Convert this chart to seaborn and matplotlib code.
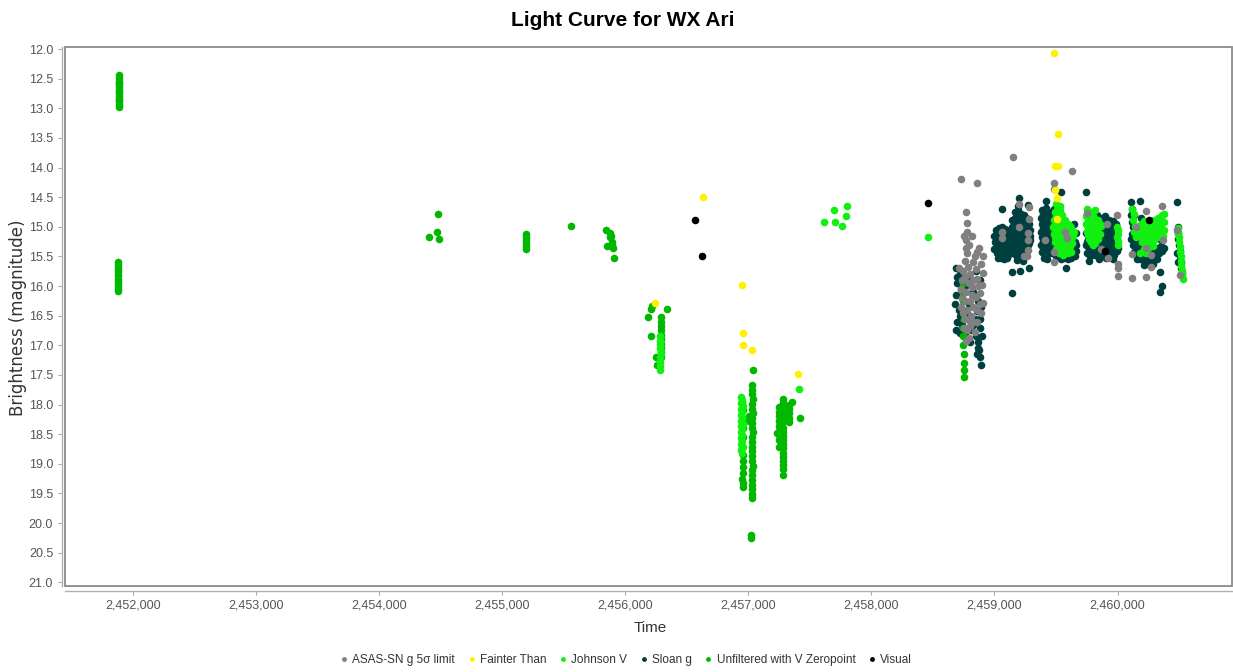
import matplotlib
matplotlib.use("Agg")
import matplotlib.pyplot as plt
import seaborn as sns
from matplotlib.lines import Line2D
from matplotlib.patches import Rectangle
from matplotlib.ticker import FuncFormatter, MultipleLocator

# Times are stored as JD - 2450000, magnitudes as observed
JD_BASE = 2450000

SERIES_NAMES = ["ASAS-SN g 5σ limit", "Fainter Than", "Johnson V",
                "Sloan g", "Unfiltered with V Zeropoint", "Visual"]

ASASSN_G = [
    (8726, 14.19), (8861, 14.26), (8766, 14.75), (8775, 14.94), (8780, 15.08),
    (8820, 15.16), (8766, 15.23), (8772, 15.35), (8778, 15.45), (8856, 15.42),
    (8905, 15.50), (8895, 15.62), (8760, 15.58), (8785, 15.68), (8830, 15.60),
    (8745, 15.75), (8800, 15.80), (8850, 15.72), (8910, 15.78), (8735, 15.90),
    (8790, 15.95), (8860, 15.88), (8900, 15.98), (8725, 16.05), (8770, 16.10),
    (8820, 16.02), (8880, 16.12), (8740, 16.20), (8800, 16.25), (8850, 16.18),
    (8905, 16.28), (8730, 16.35), (8780, 16.40), (8830, 16.35), (8890, 16.45),
    (8760, 16.55), (8810, 16.50), (8860, 16.60), (8750, 16.70), (8800, 16.68),
    (8840, 16.78), (8790, 16.88), (8770, 16.92), (8815, 16.15), (8795, 16.58),
    (8755, 15.15), (8790, 15.30), (8840, 15.50), (8875, 15.35), (8715, 15.70),
    (8760, 15.85), (8825, 15.90), (8870, 16.00), (8745, 16.45), (8855, 16.40),
    (8825, 16.60), (8880, 16.30), (8780, 16.75), (8760, 16.25),
    (9153, 13.83), (9064, 15.08), (9064, 15.19), (9200, 14.62), (9200, 15.00),
    (9278, 14.66), (9278, 14.87), (9270, 15.39), (9243, 15.50), (9275, 15.11),
    (9275, 15.22), (9262, 15.50),
    (9481, 14.26), (9481, 14.37), (9630, 14.05), (9575, 15.08), (9590, 15.19),
    (9481, 15.43), (9481, 15.59), (9410, 15.22),
    (9749, 14.76), (9915, 14.95), (9993, 14.80), (10006, 15.62), (10006, 15.70),
    (10006, 15.83), (9865, 15.38), (9920, 15.53), (10115, 15.86),
    (10230, 14.73), (10363, 14.65), (10150, 15.01), (10117, 15.46),
    (10235, 15.36), (10275, 15.48), (10275, 15.68), (10235, 15.85),
    (10367, 15.22), (10485, 15.05), (10508, 15.81),
]

FAINTER_THAN = [
    (6245, 16.29), (6630, 14.49), (6952, 15.98), (6955, 16.79), (6955, 16.99),
    (7031, 17.08), (7402, 17.49), (9486, 12.06), (9516, 13.43), (9492, 13.97),
    (9519, 13.97), (9494, 14.38), (9510, 14.51), (9510, 14.86),
]

JOHNSON_V = [
    (6281, 16.85), (6284, 16.92), (6286, 16.98), (6282, 17.05), (6288, 17.12),
    (6283, 17.20), (6285, 17.28), (6287, 17.35), (6284, 17.42),
    (6940, 17.87), (6952, 17.92), (6942, 17.97), (6954, 18.02), (6940, 18.07),
    (6953, 18.12), (6941, 18.17), (6952, 18.22), (6940, 18.27), (6954, 18.32),
    (6942, 18.37), (6952, 18.42), (6940, 18.47), (6953, 18.52), (6941, 18.57),
    (6952, 18.62), (6940, 18.67), (6954, 18.72), (6942, 18.77), (6947, 18.82),
    (7410, 17.74),
    (7618, 14.92), (7699, 14.72), (7705, 14.92), (7759, 14.99), (7792, 14.81),
    (7800, 14.65), (8458, 15.17),
    (9500, 14.62), (9515, 14.68), (9530, 14.65), (9490, 14.75), (9520, 14.78),
    (9545, 14.80), (9480, 14.88), (9510, 14.90), (9540, 14.92), (9570, 14.88),
    (9600, 14.95), (9475, 15.00), (9505, 15.02), (9535, 15.05), (9565, 15.00),
    (9595, 15.05), (9625, 15.02), (9650, 15.08), (9480, 15.12), (9510, 15.15),
    (9545, 15.18), (9575, 15.12), (9610, 15.18), (9640, 15.15), (9495, 15.25),
    (9525, 15.28), (9560, 15.25), (9600, 15.30), (9630, 15.28), (9500, 15.38),
    (9540, 15.40), (9585, 15.36), (9620, 15.42), (9560, 15.48),
    (9505, 14.72), (9530, 14.72), (9500, 14.82), (9530, 14.85), (9555, 14.86),
    (9495, 14.95), (9525, 14.96), (9555, 14.95), (9585, 14.96), (9615, 14.98),
    (9490, 15.07), (9520, 15.08), (9550, 15.10), (9585, 15.08), (9615, 15.10),
    (9640, 15.10), (9495, 15.18), (9525, 15.20), (9560, 15.20), (9595, 15.22),
    (9625, 15.22), (9515, 15.33), (9550, 15.33), (9580, 15.28), (9610, 15.32),
    (9525, 15.44), (9600, 15.44),
    (9750, 14.70), (9790, 14.75), (9820, 14.72), (9745, 14.82), (9775, 14.85),
    (9810, 14.85), (9845, 14.88), (9740, 14.95), (9770, 14.97), (9800, 14.95),
    (9835, 15.00), (9865, 14.98), (9750, 15.08), (9785, 15.10), (9820, 15.08),
    (9855, 15.12), (9770, 15.20), (9805, 15.22), (9840, 15.20), (9800, 15.30),
    (9760, 14.78), (9800, 14.82), (9760, 14.90), (9790, 14.90), (9825, 14.92),
    (9855, 14.95), (9760, 15.02), (9795, 15.02), (9830, 15.04), (9760, 15.14),
    (9790, 15.15), (9825, 15.14), (9785, 15.26), (9820, 15.27),
    (9995, 15.00), (10000, 15.06), (10002, 15.12), (9998, 15.18), (10004, 15.24),
    (10000, 15.30),
    (10120, 14.70), (10135, 14.78), (10125, 14.88), (10140, 14.98), (10130, 15.08),
    (10150, 15.18), (10190, 14.95), (10215, 14.90), (10240, 14.92), (10270, 14.95),
    (10300, 14.88), (10330, 14.85), (10360, 14.80), (10380, 14.78), (10200, 15.05),
    (10230, 15.02), (10260, 15.05), (10290, 15.00), (10320, 15.00), (10350, 14.95),
    (10380, 14.92), (10185, 15.15), (10215, 15.12), (10245, 15.15), (10280, 15.10),
    (10310, 15.12), (10345, 15.08), (10375, 15.05), (10200, 15.25), (10230, 15.30),
    (10265, 15.22), (10300, 15.22), (10335, 15.18), (10370, 15.15), (10215, 15.38),
    (10250, 15.35), (10290, 15.32), (10180, 15.45),
    (10205, 14.98), (10235, 14.97), (10265, 14.99), (10295, 14.95), (10325, 14.93),
    (10355, 14.88), (10190, 15.10), (10225, 15.08), (10255, 15.10), (10285, 15.06),
    (10320, 15.06), (10355, 15.02), (10210, 15.20), (10245, 15.22), (10280, 15.18),
    (10315, 15.16), (10350, 15.12), (10230, 15.45), (10270, 15.30),
    (10492, 15.02), (10495, 15.10), (10498, 15.18), (10500, 15.26), (10505, 15.34),
    (10508, 15.42), (10512, 15.50), (10515, 15.58), (10518, 15.66), (10522, 15.74),
    (10526, 15.82), (10534, 15.88),
]

SLOAN_G = [
    (8690, 15.70), (8720, 15.80), (8850, 15.75), (8700, 15.95), (8760, 16.00),
    (8880, 15.90), (8690, 16.15), (8740, 16.20), (8870, 16.25), (8710, 16.40),
    (8780, 16.45), (8860, 16.42), (8700, 16.60), (8830, 16.65), (8880, 16.70),
    (8720, 16.80), (8850, 16.85), (8870, 16.95), (8870, 17.05), (8880, 17.20),
    (8890, 17.33), (8877, 17.08),
    (8700, 15.85), (8730, 16.05), (8790, 15.85), (8830, 16.10), (8680, 16.30),
    (8720, 16.50), (8790, 16.30), (8840, 16.55), (8895, 16.35), (8690, 16.75),
    (8760, 16.80), (8800, 16.95), (8860, 17.15), (8885, 16.55), (8900, 16.85),
    (8740, 16.65), (8810, 16.75),
    (9010, 15.05), (9035, 15.02), (9060, 15.00), (9085, 15.04), (9110, 15.08),
    (9015, 15.15), (9040, 15.13), (9065, 15.16), (9090, 15.12), (9115, 15.18),
    (9008, 15.25), (9033, 15.27), (9058, 15.24), (9083, 15.28), (9108, 15.25),
    (9012, 15.35), (9038, 15.36), (9062, 15.33), (9088, 15.38), (9113, 15.35),
    (9018, 15.45), (9043, 15.47), (9070, 15.44), (9095, 15.48), (9120, 15.46),
    (9030, 15.53), (9080, 15.55),
    (9022, 15.08), (9048, 15.08), (9072, 15.09), (9098, 15.10), (9025, 15.20),
    (9050, 15.20), (9075, 15.21), (9100, 15.20), (9122, 15.22), (9020, 15.30),
    (9046, 15.31), (9072, 15.30), (9098, 15.32), (9025, 15.40), (9050, 15.41),
    (9078, 15.40), (9102, 15.42), (9055, 15.52), (9105, 15.52), (9000, 15.15),
    (9000, 15.38),
    (9165, 14.75), (9190, 14.72), (9215, 14.78), (9240, 14.80),
    (9145, 14.88), (9170, 14.85), (9195, 14.90), (9220, 14.86), (9245, 14.92),
    (9270, 14.88), (9140, 15.00), (9165, 14.98), (9190, 15.02), (9215, 14.97),
    (9240, 15.03), (9265, 15.00), (9285, 15.05), (9145, 15.12), (9170, 15.10),
    (9195, 15.14), (9220, 15.09), (9245, 15.13), (9270, 15.11), (9290, 15.15),
    (9140, 15.22), (9165, 15.25), (9190, 15.21), (9215, 15.24), (9240, 15.22),
    (9265, 15.26), (9285, 15.23), (9145, 15.34), (9170, 15.32), (9195, 15.36),
    (9220, 15.33), (9245, 15.35), (9270, 15.31), (9150, 15.45), (9175, 15.48),
    (9200, 15.44), (9225, 15.47), (9255, 15.45), (9180, 15.56), (9230, 15.58),
    (9155, 14.94), (9180, 14.95), (9205, 14.95), (9230, 14.95), (9255, 14.96),
    (9280, 14.95), (9155, 15.06), (9180, 15.06), (9205, 15.07), (9230, 15.06),
    (9255, 15.07), (9280, 15.08), (9155, 15.17), (9180, 15.17), (9205, 15.18),
    (9230, 15.17), (9255, 15.18), (9280, 15.19), (9155, 15.28), (9180, 15.28),
    (9205, 15.29), (9230, 15.28), (9255, 15.29), (9280, 15.28), (9160, 15.40),
    (9185, 15.40), (9210, 15.40), (9235, 15.41), (9262, 15.40), (9180, 14.80),
    (9205, 14.83), (9230, 14.85), (9255, 14.85), (9195, 14.65), (9130, 15.05),
    (9130, 15.30),
    (9200, 14.52), (9064, 14.70), (9270, 14.64), (9145, 15.77), (9207, 15.74),
    (9280, 15.69), (9145, 16.12),
    (9390, 14.72), (9420, 14.68), (9445, 14.75), (9380, 14.85), (9405, 14.82),
    (9430, 14.86), (9455, 14.84), (9385, 14.95), (9410, 14.98), (9435, 14.94),
    (9460, 14.97), (9380, 15.08), (9405, 15.06), (9430, 15.10), (9455, 15.07),
    (9385, 15.18), (9410, 15.20), (9435, 15.17), (9460, 15.21), (9380, 15.30),
    (9405, 15.28), (9430, 15.32), (9455, 15.30), (9390, 15.42), (9415, 15.40),
    (9440, 15.44), (9465, 15.41), (9400, 15.52), (9430, 15.55),
    (9392, 14.78), (9418, 14.78), (9442, 14.80), (9392, 14.90), (9418, 14.90),
    (9445, 14.90), (9392, 15.02), (9418, 15.02), (9445, 15.02), (9392, 15.13),
    (9418, 15.13), (9445, 15.13), (9392, 15.24), (9418, 15.24), (9445, 15.25),
    (9392, 15.36), (9418, 15.35), (9445, 15.36), (9470, 15.30), (9470, 15.45),
    (9505, 15.45), (9535, 15.48), (9565, 15.52), (9595, 15.48), (9625, 15.52),
    (9655, 15.50), (9665, 15.30), (9640, 15.38),
    (9490, 15.35), (9520, 15.40), (9550, 15.45), (9580, 15.50), (9610, 15.45),
    (9640, 15.48), (9660, 15.40), (9500, 15.50), (9540, 15.55), (9600, 15.55),
    (9630, 15.30), (9655, 15.25), (9660, 15.10), (9650, 14.95), (9480, 14.70),
    (9470, 14.95), (9470, 15.20), (9416, 14.56), (9541, 14.42), (9581, 15.69),
    (9740, 15.10), (9760, 15.20), (9745, 15.30), (9770, 15.38), (9750, 15.45),
    (9780, 15.50), (9765, 15.58), (9800, 15.30), (9830, 15.35), (9860, 15.40),
    (9890, 15.38), (9920, 15.42), (9950, 15.45), (9980, 15.40), (10005, 15.35),
    (9870, 14.85), (9900, 14.82), (9930, 14.88), (9960, 14.90), (9990, 14.95),
    (9860, 15.00), (9885, 14.98), (9915, 15.02), (9945, 15.00), (9975, 15.05),
    (9870, 15.12), (9900, 15.15), (9930, 15.10), (9960, 15.14), (9985, 15.18),
    (9865, 15.25), (9895, 15.22), (9925, 15.28), (9955, 15.24), (9985, 15.27),
    (9875, 15.48), (9905, 15.52), (9935, 15.50), (9965, 15.55), (9850, 15.55),
    (9820, 15.48), (9744, 14.42), (9830, 14.80), (9800, 14.75),
    (9880, 14.92), (9910, 14.92), (9940, 14.94), (9970, 14.96), (9880, 15.06),
    (9910, 15.07), (9940, 15.06), (9970, 15.08), (9880, 15.18), (9910, 15.19),
    (9940, 15.20), (9970, 15.21), (9880, 15.32), (9910, 15.33), (9940, 15.34),
    (9970, 15.33), (9995, 15.40), (9880, 15.43), (9910, 15.44), (9940, 15.45),
    (9970, 15.47), (9760, 15.05), (9755, 15.25), (9775, 15.45), (9790, 15.40),
    (9815, 15.40), (9845, 15.45), (9755, 14.95),
    (10110, 14.58), (10120, 14.70), (10135, 14.80), (10115, 14.92), (10140, 15.02),
    (10120, 15.12), (10150, 15.20), (10125, 15.30), (10160, 15.35), (10135, 15.42),
    (10170, 15.48), (10180, 15.55), (10200, 15.30), (10230, 15.35), (10260, 15.38),
    (10290, 15.40), (10320, 15.36), (10350, 15.32), (10215, 15.45), (10245, 15.50),
    (10275, 15.55), (10305, 15.50), (10335, 15.45), (10230, 15.60), (10260, 15.65),
    (10290, 15.62), (10330, 14.95), (10345, 15.20), (10190, 14.85), (10345, 14.85),
    (10110, 14.80), (10125, 15.00), (10110, 15.20), (10140, 15.25), (10150, 15.40),
    (10160, 15.55), (10215, 15.38), (10245, 15.42), (10275, 15.45), (10305, 15.42),
    (10335, 15.38), (10200, 15.55), (10260, 15.55), (10320, 15.55), (10365, 15.40),
    (10380, 15.35), (10245, 15.62), (10215, 15.65),
    (10345, 15.77), (10360, 16.00), (10345, 16.10), (10180, 14.57),
    (10485, 14.58), (10488, 15.00), (10490, 15.10), (10495, 15.20), (10500, 15.30),
    (10505, 15.40), (10508, 15.50), (10512, 15.60), (10515, 15.70), (10520, 15.78),
    (10485, 15.45), (10490, 15.60),
]

UNFILTERED_V = [
    (1886, 12.44), (1887, 12.49), (1888, 12.54), (1886, 12.59), (1887, 12.64),
    (1889, 12.69), (1888, 12.74), (1887, 12.79), (1886, 12.84), (1888, 12.89),
    (1887, 12.94), (1889, 12.97), (1888, 12.57), (1887, 12.71), (1886, 12.86),
    (1880, 15.60), (1881, 15.65), (1879, 15.70), (1880, 15.76), (1882, 15.82),
    (1881, 15.88), (1880, 15.94), (1879, 16.00), (1881, 16.05), (1880, 16.09),
    (1882, 15.73), (1881, 15.91),
    (4409, 15.17), (4478, 14.78), (4469, 15.08), (4486, 15.21),
    (5195, 15.12), (5196, 15.17), (5195, 15.22), (5197, 15.27), (5196, 15.32),
    (5195, 15.37), (5560, 14.98),
    (5845, 15.05), (5878, 15.10), (5886, 15.16), (5878, 15.18), (5850, 15.32),
    (5893, 15.31), (5904, 15.35), (5891, 15.26), (5912, 15.52),
    (6208, 16.39), (6218, 16.34), (6188, 16.53), (6338, 16.39), (6213, 16.84),
    (6291, 16.53), (6292, 16.60), (6290, 16.68), (6291, 16.75), (6293, 16.82),
    (6291, 16.90), (6290, 16.98), (6292, 17.05), (6291, 17.12), (6290, 17.19),
    (6253, 17.20), (6258, 17.33),
    (6953, 17.95), (6956, 18.10), (6954, 18.25), (6957, 18.40), (6955, 18.55),
    (6953, 18.70), (6956, 18.85), (6954, 18.95), (6957, 19.05), (6955, 19.15),
    (6953, 19.25), (6956, 19.33), (6954, 19.39),
    (7041, 17.42), (7030, 17.67), (7034, 17.75), (7028, 17.83), (7036, 17.91),
    (7031, 17.99), (7027, 18.07), (7035, 18.15), (7030, 18.23), (7033, 18.31),
    (7028, 18.39), (7036, 18.47), (7031, 18.55), (7027, 18.63), (7034, 18.71),
    (7030, 18.79), (7033, 18.87), (7028, 18.95), (7035, 19.03), (7031, 19.11),
    (7029, 19.19), (7034, 19.27), (7030, 19.35), (7032, 19.43), (7029, 19.51),
    (7031, 19.58), (7005, 18.20), (7008, 18.28), (7020, 20.20), (7022, 20.25),
    (7280, 17.90), (7282, 17.97), (7279, 18.04), (7281, 18.11), (7283, 18.18),
    (7280, 18.25), (7278, 18.32), (7282, 18.39), (7280, 18.46), (7281, 18.53),
    (7279, 18.60), (7283, 18.67), (7280, 18.74), (7282, 18.81), (7279, 18.88),
    (7281, 18.95), (7280, 19.02), (7282, 19.09), (7280, 19.19),
    (7252, 18.04), (7254, 18.12), (7251, 18.20), (7253, 18.28), (7252, 18.36),
    (7250, 18.44), (7253, 18.52), (7252, 18.60), (7251, 18.71), (7231, 18.48),
    (7333, 18.01), (7335, 18.08), (7332, 18.15), (7334, 18.22), (7333, 18.29),
    (7358, 17.95), (7423, 18.22),
    (8747, 15.95), (8748, 16.10), (8746, 16.25), (8747, 16.40), (8749, 16.55),
    (8747, 16.70), (8748, 16.85), (8746, 17.00), (8750, 17.15), (8752, 17.30),
    (8754, 17.42), (8755, 17.53),
]

VISUAL = [(6567, 14.89), (6624, 15.49), (8458, 14.59), (9900, 15.40), (10258, 14.89)]

COLORS = {
    "ASAS-SN g 5σ limit": "#808080",
    "Fainter Than": "#fff000",
    "Johnson V": "#12f012",
    "Sloan g": "#003f3f",
    "Unfiltered with V Zeropoint": "#00b800",
    "Visual": "#000000",
}
DATA = {
    "ASAS-SN g 5σ limit": ASASSN_G,
    "Fainter Than": FAINTER_THAN,
    "Johnson V": JOHNSON_V,
    "Sloan g": SLOAN_G,
    "Unfiltered with V Zeropoint": UNFILTERED_V,
    "Visual": VISUAL,
}
DRAW_ORDER = ["Sloan g", "Unfiltered with V Zeropoint", "Johnson V",
              "ASAS-SN g 5σ limit", "Fainter Than", "Visual"]

sns.set_theme(style="white")
plt.rcParams["font.family"] = ["Liberation Sans", "DejaVu Sans"]

fig = plt.figure(figsize=(12.33, 6.72), dpi=100)
ax = fig.add_axes([0.0527, 0.128, 0.9465, 0.802])

for z, name in enumerate(DRAW_ORDER):
    pts = DATA[name]
    sns.scatterplot(x=[JD_BASE + p[0] for p in pts], y=[p[1] for p in pts],
                    color=COLORS[name], s=30, linewidth=0, alpha=1.0,
                    ax=ax, legend=False, zorder=2 + z)

ax.set_xlim(JD_BASE + 1450, JD_BASE + 10930)
ax.set_ylim(21.062, 11.966)
ax.xaxis.set_major_locator(MultipleLocator(1000))
ax.xaxis.set_major_formatter(FuncFormatter(lambda v, p: f"{v:,.0f}"))
ax.yaxis.set_major_locator(MultipleLocator(0.5))
ax.yaxis.set_major_formatter(FuncFormatter(lambda v, p: f"{v:.1f}"))
ax.set_xlabel("")
ax.set_ylabel("")

ax.tick_params(axis="both", which="major", length=3, width=0.8, color="#aaaaaa",
               labelcolor="#555555", labelsize=9, direction="out", pad=3,
               left=True, bottom=True)
for side in ("top", "right"):
    ax.spines[side].set_visible(False)
ax.spines["left"].set_position(("outward", 2.5))
ax.spines["bottom"].set_position(("outward", 3.6))
for side in ("left", "bottom"):
    ax.spines[side].set_color("#b0b0b0")
    ax.spines[side].set_linewidth(1.0)
ax.add_patch(Rectangle((0, 0), 1, 1, transform=ax.transAxes, fill=False,
                       edgecolor="#8a8a8a", linewidth=1.3, clip_on=False, zorder=20))

fig.text(0.505, 1 - 21 / 672, "Light Curve for WX Ari", ha="center", va="center",
         fontsize=15, fontweight="bold", color="#000000")
fig.text(650 / 1233, 1 - 628 / 672, "Time", ha="center", va="center",
         fontsize=11, color="#333333")
fig.text(18 / 1233, 1 - 318 / 672, "Brightness (magnitude)", ha="center", va="center",
         rotation=90, fontsize=12, color="#333333", family=["DejaVu Sans"])

handles = [Line2D([], [], linestyle="", marker="o", markersize=3.5,
                  markerfacecolor=COLORS[n], markeredgewidth=0, label=n)
           for n in SERIES_NAMES]
fig.legend(handles=handles, loc="center", bbox_to_anchor=(0.507, 1 - 660 / 672),
           ncol=6, frameon=False, fontsize=8.5, handletextpad=0.2,
           columnspacing=0.9, handlelength=1.0, labelcolor="#333333")

fig.savefig("out.png", dpi=100)
